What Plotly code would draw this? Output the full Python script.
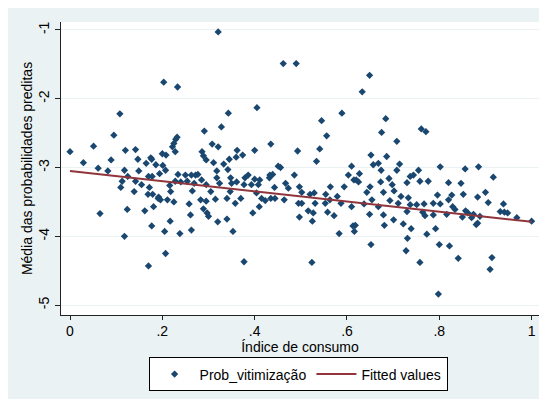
import plotly.graph_objects as go

# Scatter: Prob_vitimização (x = índice de consumo, y = média das probabilidades preditas)
prob_x = [
 0.00,0.108,0.095,0.051,0.029,0.061,0.082,0.089,0.12,0.118,0.113,0.11,0.125,0.142,0.147,0.149,0.142,0.139,0.155,0.165,
 0.175,0.177,0.186,0.17,0.178,0.172,0.169,0.179,0.192,0.181,0.162,0.065,0.124,0.177,0.118,0.17,
 0.203,0.233,0.321,0.462,0.49,
 0.405,0.343,0.328,0.291,0.232,0.229,0.225,0.222,0.228,0.308,0.321,0.286,0.289,0.295,0.311,0.362,0.374,0.40,0.36,0.345,
 0.333,0.342,0.318,0.2,0.208,0.201,0.207,0.194,0.234,0.25,0.263,0.272,0.277,0.228,0.24,0.254,0.269,0.285,0.295,0.318,
 0.324,0.348,0.35,0.361,0.379,0.386,0.40,0.393,0.377,0.216,0.218,0.265,0.283,0.295,0.305,0.315,0.34,0.347,0.358,0.37,
 0.191,0.196,0.211,0.225,0.258,0.289,0.297,0.261,0.30,0.396,0.217,0.205,0.238,0.263,0.32,0.34,0.353,0.207,0.377,
 0.589,0.545,0.556,0.541,0.534,0.493,0.435,0.451,0.456,0.486,0.433,0.439,0.432,0.411,0.408,0.467,0.473,0.443,0.497,0.502,
 0.52,0.529,0.554,0.564,0.579,0.594,0.603,0.61,0.615,0.404,0.415,0.41,0.423,0.435,0.444,0.464,0.495,0.502,0.531,0.553,
 0.563,0.587,0.61,0.497,0.516,0.527,0.525,0.558,0.572,0.583,0.613,0.616,0.524,
 0.649,0.633,0.684,0.675,0.761,0.771,0.708,0.652,0.686,0.657,0.668,0.674,0.714,0.708,0.755,0.802,0.627,0.62,0.625,0.691,
 0.673,0.737,0.744,0.73,0.758,0.776,0.82,0.65,0.643,0.698,0.702,0.679,0.717,0.733,0.796,0.654,0.637,0.693,0.711,0.737,
 0.751,0.767,0.787,0.802,0.82,0.668,0.649,0.679,0.701,0.73,0.764,0.769,0.787,0.618,0.681,0.722,0.739,0.773,0.792,0.652,
 0.731,0.728,0.758,0.80,0.822,0.798,
 0.856,0.885,0.917,0.847,0.852,0.90,0.883,0.906,0.939,0.827,0.829,0.834,0.816,0.857,0.862,0.874,0.85,0.87,0.888,0.932,
 0.941,0.948,0.968,1.0,0.88,0.883,0.841,0.914,0.91,
]
prob_y = [
 -2.77,-2.22,-2.53,-2.69,-2.93,-3.01,-3.05,-2.89,-2.75,-3.04,-3.20,-3.29,-3.13,-2.74,-2.88,-3.05,-3.20,-3.35,-3.25,-2.94,
 -2.86,-2.88,-2.96,-3.13,-3.13,-3.29,-3.39,-3.39,-3.43,-3.57,-3.63,-3.67,-3.61,-3.85,-4.00,-4.43,
 -1.76,-1.83,-1.03,-1.49,-1.49,
 -2.13,-2.21,-2.41,-2.47,-2.56,-2.59,-2.65,-2.70,-2.77,-2.66,-2.70,-2.77,-2.83,-2.89,-2.93,-2.75,-2.82,-2.75,-2.85,-2.88,
 -2.95,-3.03,-3.05,-2.80,-2.82,-2.97,-3.04,-3.09,-3.10,-3.11,-3.11,-3.11,-3.10,-3.20,-3.21,-3.20,-3.23,-3.18,-3.25,-3.15,
 -3.23,-3.15,-3.23,-3.21,-3.15,-3.11,-3.17,-3.25,-3.25,-3.26,-3.35,-3.34,-3.47,-3.49,-3.35,-3.46,-3.45,-3.35,-3.52,-3.45,
 -3.45,-3.47,-3.47,-3.50,-3.53,-3.60,-3.66,-3.69,-3.71,-3.66,-3.78,-3.93,-3.96,-3.91,-3.79,-3.75,-3.93,-4.25,-4.37,
 -2.21,-2.32,-2.54,-2.73,-2.91,-2.76,-2.66,-2.98,-3.00,-3.11,-3.11,-3.10,-3.15,-3.18,-3.25,-3.23,-3.30,-3.29,-3.28,-3.36,
 -3.39,-3.37,-3.39,-3.28,-3.42,-3.28,-3.11,-2.98,-3.18,-3.37,-3.45,-3.57,-3.48,-3.45,-3.45,-3.47,-3.52,-3.52,-3.52,-3.52,
 -3.47,-3.52,-3.57,-3.72,-3.63,-3.66,-3.78,-3.65,-3.70,-3.96,-3.85,-3.93,-4.38,
 -1.66,-1.90,-2.29,-2.49,-2.44,-2.48,-2.62,-2.82,-2.84,-2.96,-2.94,-3.04,-2.95,-3.04,-3.04,-2.99,-3.09,-3.18,-3.21,-3.16,
 -3.21,-3.13,-3.11,-3.22,-3.20,-3.20,-3.22,-3.28,-3.36,-3.25,-3.34,-3.36,-3.42,-3.44,-3.40,-3.47,-3.53,-3.48,-3.52,-3.54,
 -3.54,-3.53,-3.52,-3.53,-3.47,-3.57,-3.68,-3.69,-3.76,-3.64,-3.65,-3.70,-3.69,-3.84,-3.84,-3.82,-3.89,-3.97,-3.89,-4.12,
 -4.03,-4.21,-4.38,-4.12,-4.14,-4.84,
 -3.02,-2.99,-3.14,-3.23,-3.39,-3.36,-3.43,-3.51,-3.53,-3.40,-3.57,-3.61,-3.68,-3.63,-3.66,-3.68,-3.72,-3.73,-3.71,-3.64,
 -3.65,-3.66,-3.73,-3.78,-3.83,-3.81,-4.32,-4.31,-4.48,
]

# Fitted values (linear fit endpoints)
fit_x = [0.0, 1.0]
fit_y = [-3.05, -3.79]

x_tickvals = [0, 0.2, 0.4, 0.6, 0.8, 1]
x_ticktext = ["0", ".2", ".4", ".6", ".8", "1"]
y_tickvals = [-1, -2, -3, -4, -5]
y_ticktext = ["-1", "-2", "-3", "-4", "-5"]

NAVY = "#1A476F"
MAROON = "#90353B"
BG = "#EAF2F3"
FONT = "Liberation Sans, Arial, sans-serif"

fig = go.Figure()
fig.add_trace(go.Scatter(
    x=prob_x, y=prob_y, mode="markers", name="Prob_vitimização",
    marker=dict(symbol="diamond", size=5.6, color=NAVY, line=dict(width=0)),
))
fig.add_trace(go.Scatter(
    x=fit_x, y=fit_y, mode="lines", name="Fitted values",
    line=dict(color=MAROON, width=2),
))

fig.update_layout(
    width=539, height=391,
    margin=dict(l=53, r=8, t=14, b=81),
    paper_bgcolor=BG, plot_bgcolor="white",
    font=dict(family=FONT, size=14, color="black"),
    showlegend=True,
    legend=dict(
        orientation="h", x=0.496, xanchor="center", y=-0.145, yanchor="top",
        bgcolor="white", bordercolor="black", borderwidth=1,
        font=dict(family=FONT, size=14, color="black"),
        itemwidth=40, tracegroupgap=0,
    ),
    xaxis=dict(
        range=[-0.0195, 1.016], tickvals=x_tickvals, ticktext=x_ticktext,
        showgrid=False, zeroline=False, showline=True, linecolor="#222", linewidth=1,
        ticks="outside", ticklen=4, tickcolor="#222", ticklabelstandoff=-1,
        title=dict(text="Índice de consumo", standoff=1, font=dict(size=14)),
        tickfont=dict(size=14),
    ),
    yaxis=dict(
        range=[-5.144, -0.885], tickvals=y_tickvals, ticktext=y_ticktext,
        showgrid=True, gridcolor=BG, gridwidth=1, zeroline=False,
        showline=True, linecolor="#222", linewidth=1,
        ticks="outside", ticklen=5, tickcolor="#222", tickangle=-90,
        title=dict(text="Média das probabilidades preditas", standoff=0, font=dict(size=14)),
        tickfont=dict(size=14),
    ),
)

fig.write_html("out.html")
